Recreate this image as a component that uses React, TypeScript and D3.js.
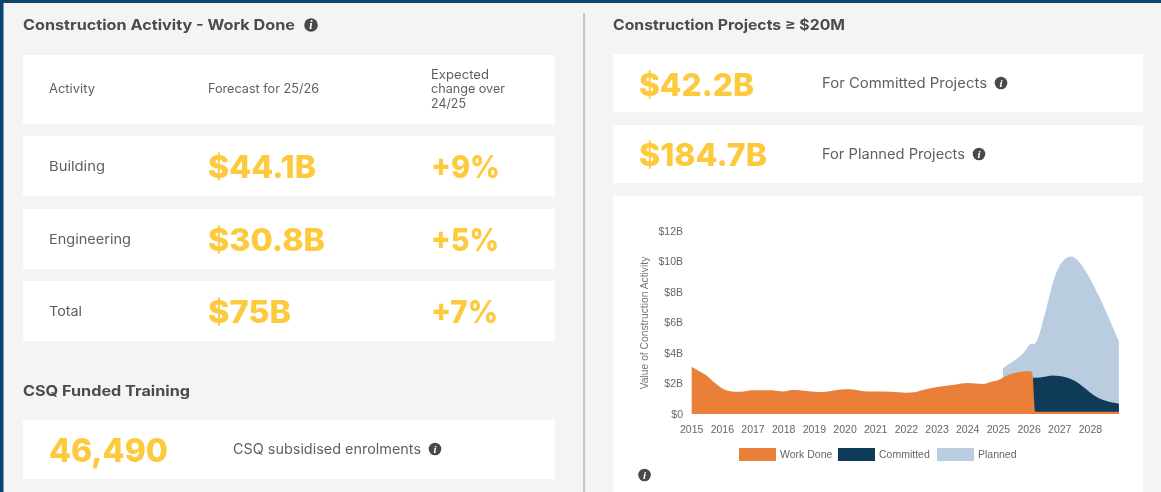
import React from "react";
import * as d3 from "d3";

const yTicks = [0, 2, 4, 6, 8, 10, 12];
const xTicks = [2015, 2016, 2017, 2018, 2019, 2020, 2021, 2022, 2023, 2024, 2025, 2026, 2027, 2028];

const workDone: [number, number][] = [
  [2015, 3.1], [2015.25, 2.8], [2015.5, 2.5], [2015.75, 2.05], [2016, 1.68], [2016.25, 1.5], [2016.5, 1.46],
  [2016.75, 1.5], [2017, 1.55], [2017.5, 1.55], [2017.75, 1.53], [2018, 1.48], [2018.25, 1.57], [2018.5, 1.55],
  [2019, 1.46], [2019.25, 1.44], [2019.5, 1.5], [2020, 1.62], [2020.25, 1.6], [2020.5, 1.53], [2020.75, 1.48],
  [2021, 1.48], [2021.5, 1.46], [2022, 1.4], [2022.25, 1.42], [2022.5, 1.55], [2023, 1.77], [2023.5, 1.9],
  [2024, 2.03], [2024.5, 1.97], [2024.75, 2.1], [2025, 2.23], [2025.25, 2.5], [2025.5, 2.67], [2026, 2.8],
  [2026.1, 2.75], [2026.2, 0.14], [2028.93, 0.14],
];
const committedTop: [number, number][] = [
  [2026.13, 2.4], [2026.2, 2.38], [2026.5, 2.45], [2026.75, 2.53], [2027, 2.49], [2027.25, 2.38], [2027.5, 2.16],
  [2027.75, 1.8], [2028, 1.4], [2028.25, 1.07], [2028.5, 0.87], [2028.93, 0.68],
];
const plannedTop: [number, number][] = [
  [2025.15, 3.0], [2025.25, 3.15], [2025.54, 3.54], [2025.81, 3.98], [2026.06, 4.59], [2026.19, 4.63],
  [2026.52, 6.6], [2026.74, 8.35], [2026.95, 9.55], [2027.17, 10.14], [2027.37, 10.32], [2027.55, 10.14],
  [2027.82, 9.44], [2028.15, 8.24], [2028.48, 6.85], [2028.75, 5.6], [2028.93, 4.75],
];
const legendItems = ["Work Done", "Committed", "Planned"];
const legendColors = ["#e97f38", "#0f3b59", "#bacde0"];

const activityRows = [
  ["Building", "$44.1B", "+9%"],
  ["Engineering", "$30.8B", "+5%"],
  ["Total", "$75B", "+7%"],
];

const ARIAL = "'Liberation Sans', Arial, sans-serif";
const YELLOW = "#fdca3d";
const GREY = "#5f5f5f";
const HEAD = "#4b4b4b";

function Info({ cx, cy, r = 6.8 }: { cx: number; cy: number; r?: number }) {
  return (
    <g>
      <circle cx={cx} cy={cy} r={r} fill="#4a4a4a" />
      <text x={cx} y={cy + r * 0.62} textAnchor="middle" fontFamily="'Liberation Serif', serif" fontStyle="italic" fontWeight={700} fontSize={r * 1.75} fill="#fff">i</text>
    </g>
  );
}

function Card({ x, y, w, h }: { x: number; y: number; w: number; h: number }) {
  return <rect x={x} y={y} width={w} height={h} fill="#fff" />;
}

function T(p: any) {
  const { x, y, size, weight = 400, fill = GREY, len, family = "Inter, sans-serif", children, ...rest } = p;
  return (
    <text x={x} y={y} fontSize={size} fontWeight={weight} fill={fill} fontFamily={family}
      textLength={len} lengthAdjust={len ? "spacingAndGlyphs" : undefined} {...rest}>{children}</text>
  );
}

export default function App() {
  const x = d3.scaleLinear().domain([2015, 2028]).range([691.7, 1090.4]);
  const y = d3.scaleLinear().domain([0, 12]).range([414, 231]);
  const area = d3.area<[number, number]>()
    .x((d) => x(d[0])).y0(y(0)).y1((d) => y(d[1])).curve(d3.curveMonotoneX);

  const rowY = [136, 209, 281];
  const bigLen = [108, 117, 83];
  const pctLen = [69, 68, 67];
  const rowLen = [56, 82, 33];
  const bigWeight = 800;

  return (
    <svg width={1161} height={492} viewBox="0 0 1161 492" style={{ position: "fixed", left: 0, top: 0, display: "block" }}>
      <defs>
        <filter id="soft" x="0" y="0" width="100%" height="100%"><feGaussianBlur stdDeviation="0.4" /></filter>
      </defs>
      <rect width={1161} height={492} fill="#f4f4f4" />
      <rect width={1161} height={3} fill="#0c4470" />
      <rect width={3.5} height={492} fill="#0c4470" />
      <rect x={583} y={13} width={2.2} height={479} fill="#c6c6c6" />

      <Card x={23} y={55} w={532} h={69} />
      {rowY.map((ry) => <Card key={ry} x={23} y={ry} w={532} h={60} />)}
      <Card x={23} y={420} w={532} h={59} />
      <Card x={613} y={54} w={530} h={58} />
      <Card x={613} y={125} w={530} h={58} />
      <Card x={613} y={196} w={530} h={296} />

      <g filter="url(#soft)">
        <T x={23} y={30} size={14.5} weight={700} fill={HEAD} len={272}>Construction Activity - Work Done</T>
        <Info cx={311} cy={25} />
        <T x={23} y={396} size={14.5} weight={700} fill={HEAD} len={167}>CSQ Funded Training</T>
        <T x={613} y={30} size={14.5} weight={700} fill={HEAD} len={232}>Construction Projects ≥ $20M</T>

        <T x={49} y={92.5} size={12.5} len={46}>Activity</T>
        <T x={208} y={92.5} size={12.5} len={111}>Forecast for 25/26</T>
        <T x={431} y={78.5} size={12.5} len={58}>Expected</T>
        <T x={431} y={93} size={12.5} len={74}>change over</T>
        <T x={431} y={108} size={12.5} len={35}>24/25</T>

        {activityRows.map((r, i) => (
          <g key={r[0]}>
            <T x={49} y={rowY[i] + 34.5} size={13.5} len={rowLen[i]}>{r[0]}</T>
            <T x={208} y={rowY[i] + 41.5} size={31.5} weight={bigWeight} fill={YELLOW} len={bigLen[i]}>{r[1]}</T>
            <T x={431} y={rowY[i] + 41.5} size={31.5} weight={bigWeight} fill={YELLOW} len={pctLen[i]}>{r[2]}</T>
          </g>
        ))}

        <T x={49} y={462} size={33} weight={bigWeight} fill={YELLOW} len={119}>46,490</T>
        <T x={233} y={454} size={14} len={188}>CSQ subsidised enrolments</T>
        <Info cx={435} cy={449} r={6.3} />

        <T x={639} y={96} size={31.5} weight={bigWeight} fill={YELLOW} len={115}>$42.2B</T>
        <T x={822} y={88} size={14} len={165}>For Committed Projects</T>
        <Info cx={1001} cy={83} r={6.3} />
        <T x={639} y={166} size={31.5} weight={bigWeight} fill={YELLOW} len={128}>$184.7B</T>
        <T x={822} y={159} size={14} len={143}>For Planned Projects</T>
        <Info cx={979} cy={154} r={6.3} />

        <path d={area(plannedTop) ?? ""} fill={legendColors[2]} />
        <path d={area(committedTop) ?? ""} fill={legendColors[1]} />
        <path d={area(workDone) ?? ""} fill={legendColors[0]} />

        {yTicks.map((t) => (
          <text key={t} x={683} y={y(t) + 3.5} textAnchor="end" fontFamily={ARIAL} fontSize={10.5} fill="#666">
            {t === 0 ? "$0" : `$${t}B`}
          </text>
        ))}
        {xTicks.map((t) => (
          <text key={t} x={x(t)} y={432.5} textAnchor="middle" fontFamily={ARIAL} fontSize={10.5} fill="#666">{t}</text>
        ))}
        <text transform="translate(647.5,323) rotate(-90)" textAnchor="middle" fontFamily={ARIAL} fontSize={10.3} fill="#777">
          Value of Construction Activity
        </text>

        {legendItems.map((name, i) => {
          const lx = [739, 838, 937][i];
          const tx = [780, 879, 978][i];
          return (
            <g key={name}>
              <rect x={lx} y={448} width={37} height={13} fill={legendColors[i]} />
              <text x={tx} y={457.5} fontFamily={ARIAL} fontSize={10.5} fill="#666">{name}</text>
            </g>
          );
        })}
        <Info cx={644.5} cy={475} r={6.3} />
      </g>
    </svg>
  );
}
